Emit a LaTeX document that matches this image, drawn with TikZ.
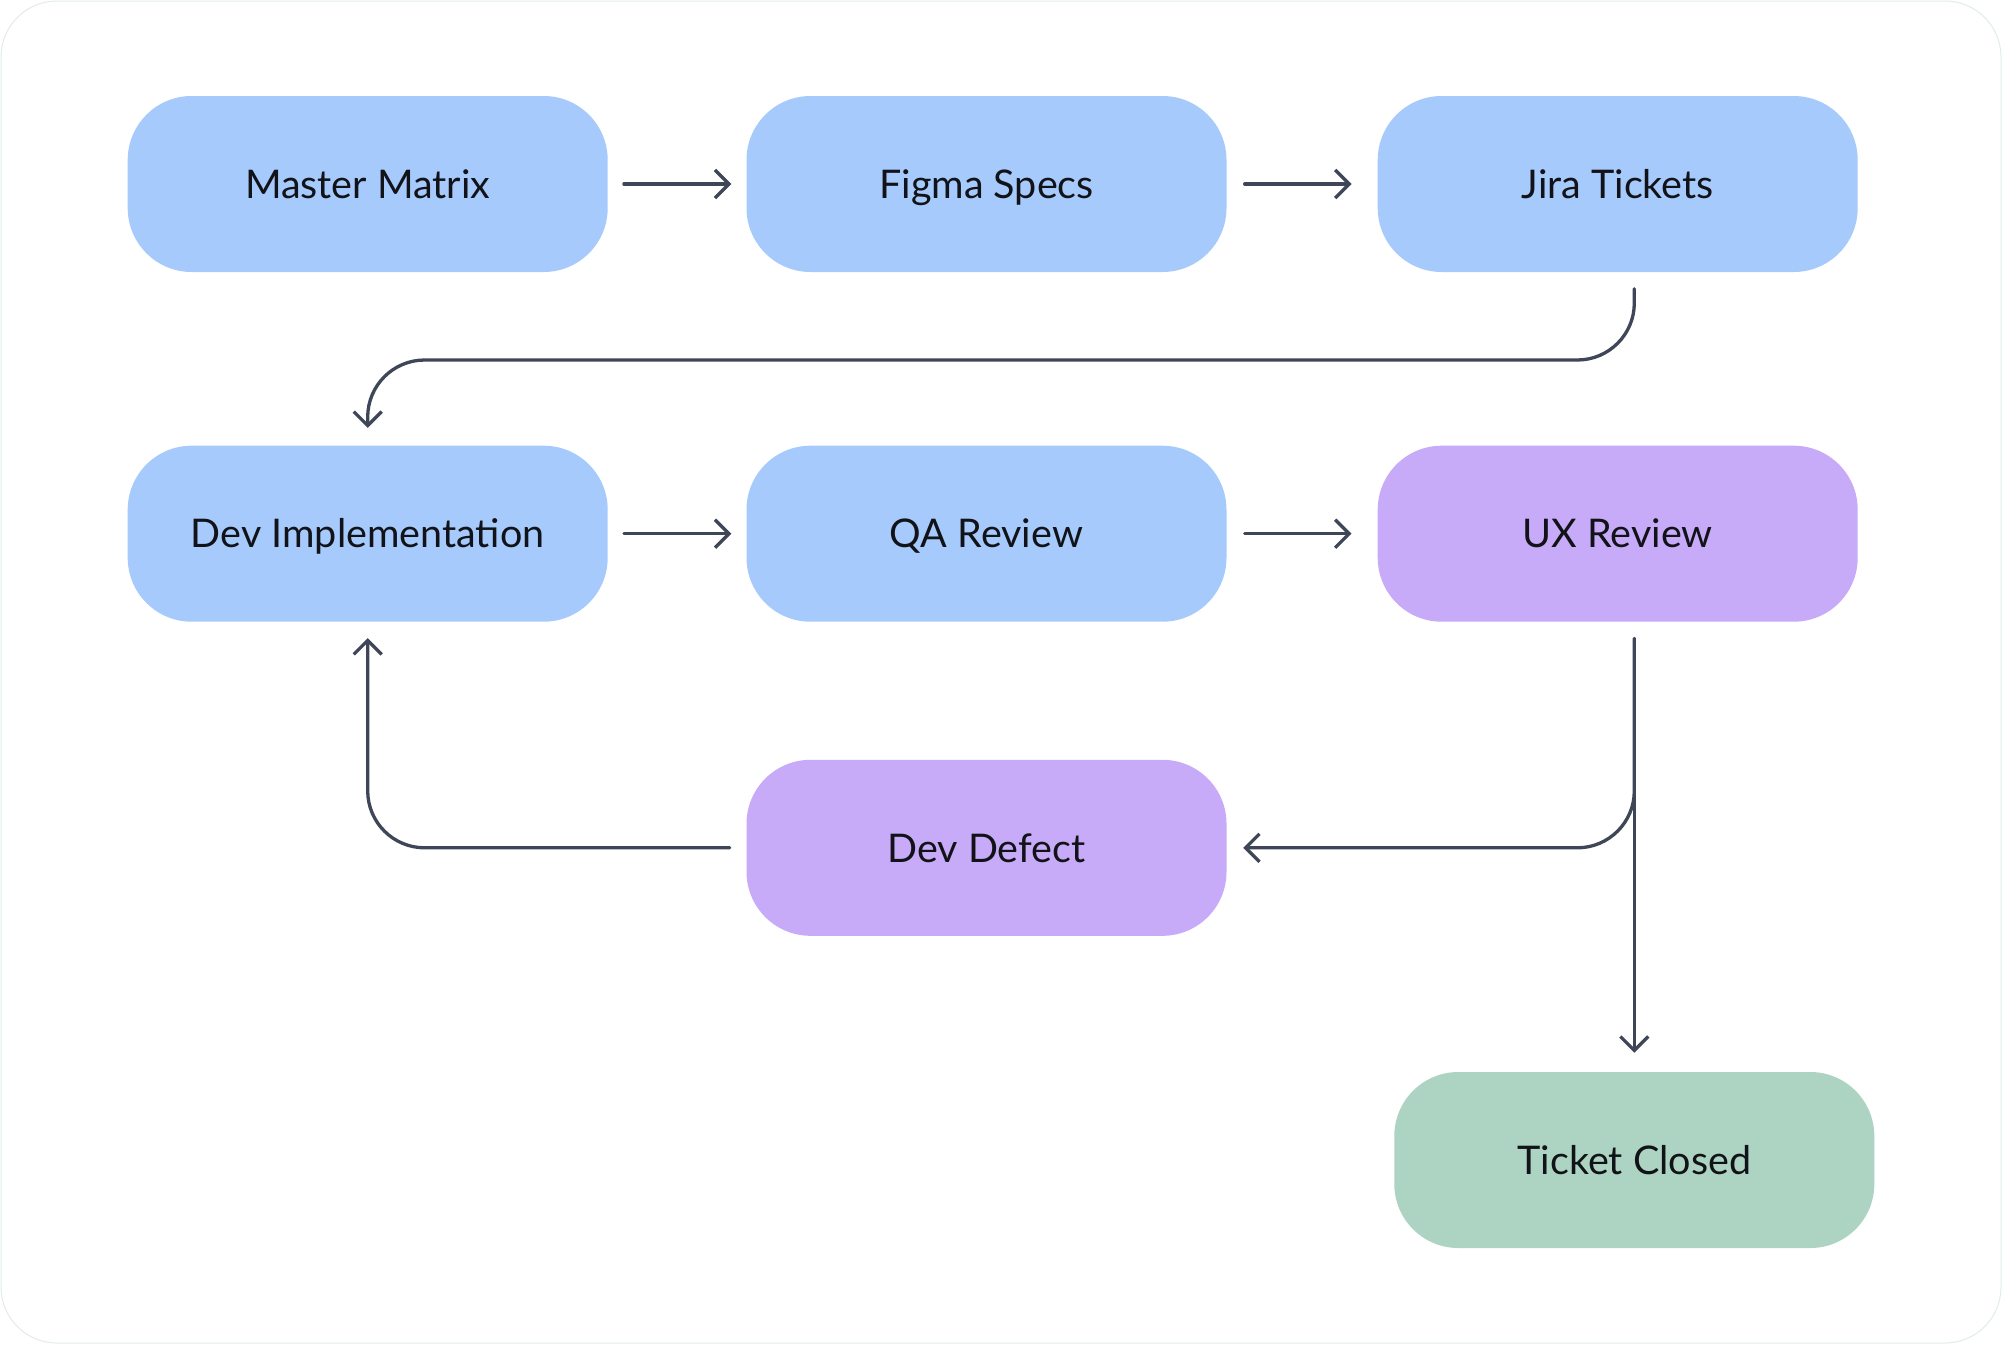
\documentclass[tikz,border=0pt]{standalone}
\usepackage{fontspec}
\setmainfont{Lato}
\usetikzlibrary{arrows.meta,backgrounds,calc}
\definecolor{boxblue}{HTML}{A6CAFC}
\definecolor{boxpurple}{HTML}{C8ABF8}
\definecolor{boxgreen}{HTML}{ADD4C2}
\definecolor{linecol}{HTML}{3E4657}
\definecolor{txtcol}{HTML}{111318}
\definecolor{framecol}{HTML}{E2ECE9}
\tikzset{
  stepbox/.style={rectangle, rounded corners=64pt, minimum width=480pt, minimum height=176pt,
    inner sep=0pt, text=txtcol, font=\fontsize{39.5}{46}\selectfont,
    text height=28.4pt, text depth=0pt},
  bluebox/.style={stepbox, fill=boxblue},
  purplebox/.style={stepbox, fill=boxpurple},
  greenbox/.style={stepbox, fill=boxgreen},
  conn/.style={draw=linecol, line width=3.3pt, line cap=round, line join=round,
    -{Straight Barb[length=14pt,width=28pt]}},
  curvy/.style={rounded corners=57pt},
}
\begin{document}
\begin{tikzpicture}[x=1pt,y=-1pt]
\useasboundingbox (0,0) rectangle (2002,1344);
\fill[white] (0,0) rectangle (2002,1344);
\draw[framecol, line width=1pt, rounded corners=56pt] (1,1) rectangle (2001,1343);

\node[bluebox]   (mm) at (367.7,184)  {Master Matrix};
\node[bluebox]   (fs) at (986.5,184)  {Figma Specs};
\node[bluebox]   (jt) at (1617.7,184) {Jira Tickets};
\node[bluebox]   (di) at (367.7,533.7)  {Dev Implementation};
\node[bluebox]   (qa) at (986.5,533.7)  {QA Review};
\node[purplebox] (ux) at (1617.7,533.7) {UX Review};
\node[purplebox] (dd) at (986.5,847.8)  {Dev Defect};
\node[greenbox]  (tc) at (1634.3,1160)  {Ticket Closed};

\begin{scope}[on background layer]
\foreach \n in {mm,fs,jt,di,qa,ux,dd,tc}{
  \foreach \e in {4,10,16,22,28,34}{
    \pgfmathsetmacro{\rr}{64+\e}
    \fill[black,opacity=0.0065,rounded corners=\rr pt]
      ($(\n.south west)+(-\e,\e)$) rectangle ($(\n.north east)+(\e,-\e)$);
  }
}
\end{scope}

% trunk coordinates
\coordinate (jtout) at ($(jt.south -| tc.center)+(0,16.6)$);
\coordinate (uxout) at ($(ux.south -| tc.center)+(0,16.6)$);
\coordinate (row12) at (0,360);

\draw[conn] ($(mm.east)+(16,0)$) -- ($(fs.west)+(-15,0)$);
\draw[conn] ($(fs.east)+(18,0)$) -- ($(jt.west)+(-26,0)$);
\draw[conn] ($(di.east)+(16,0)$) -- ($(qa.west)+(-15,0)$);
\draw[conn] ($(qa.east)+(18,0)$) -- ($(ux.west)+(-26,0)$);

\draw[conn,curvy] (jtout) -- (jtout |- row12) -- (di.north |- row12) -- ($(di.north)+(0,-17.6)$);
\draw[conn] (uxout) -- ($(tc.north)+(0,-19)$);
\draw[conn,curvy] (uxout) -- (uxout |- dd.east) -- ($(dd.east)+(16.5,0)$);
\draw[conn,curvy] ($(dd.west)+(-16.6,0)$) -- (dd.west -| di.south) -- ($(di.south)+(0,16.2)$);
\end{tikzpicture}
\end{document}
